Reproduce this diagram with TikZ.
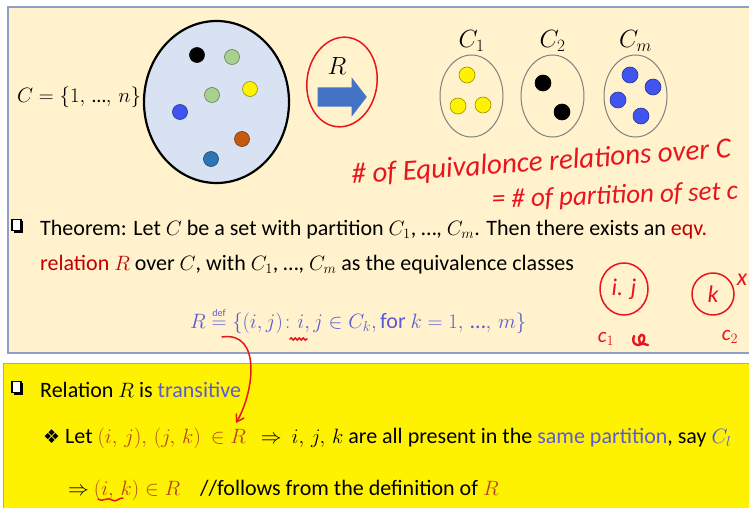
\documentclass[tikz,border=0pt]{standalone}
\usepackage{amsmath}
\usepackage{fontspec}
\setmainfont{Carlito}
\newfontfamily\symfont{DejaVu Sans}
\usetikzlibrary{
  arrows.meta,      % for arrow tips
  positioning,      % for relative placement
  shapes.geometric, % for ellipse
  shapes.arrows,    % for single arrow
  shadows,          % for the shadowed bullet boxes
  decorations.pathmorphing}
\definecolor{panel}{HTML}{FFF2CC}
\definecolor{panelline}{HTML}{8EA0C6}
\definecolor{setfill}{HTML}{D9E2F3}
\definecolor{arrowblue}{HTML}{4472C4}
\definecolor{defblue}{HTML}{5B5BD6}
\definecolor{darkred}{HTML}{C00000}
\definecolor{brownred}{HTML}{B5451B}
\definecolor{penred}{HTML}{E8141E}
\definecolor{lightgreen}{HTML}{A9D18E}
\definecolor{dotblue}{HTML}{4055F0}
\definecolor{dotbrown}{HTML}{C55A11}
\definecolor{steelblue}{HTML}{2E75B6}
\definecolor{dotyellow}{HTML}{FFF200}
\newcommand\dd{\text{…}}
\tikzset{
  set dot/.style={
    circle, inner sep=0pt, minimum size=15pt, fill=#1, draw=#1!60!black,
    line width=.6pt},
  class dot/.style={set dot=#1, minimum size=16pt},
  class set/.style={
    ellipse, draw=gray, line width=1pt, minimum width=63pt, minimum height=82pt},
  body/.style={anchor=base west, inner sep=0pt, font=\fontsize{22}{26}\selectfont},
  box bullet/.style={
    rectangle, draw, line width=1.2pt, fill=white, inner sep=0pt,
    minimum width=9pt, minimum height=11.5pt,
    drop shadow={opacity=1, fill=black, shadow xshift=1.8pt, shadow yshift=-2pt}},
  star bullet/.style={
    anchor=base west, inner sep=0pt, font=\fontsize{19}{22}\selectfont\symfont},
  pen/.style={draw=penred, line width=1.5pt, line cap=round, line join=round},
  hand/.style={inner sep=0pt, text=penred, font=\fontsize{24}{28}\selectfont\itshape}
}

\begin{document}
\begin{tikzpicture}[x=1pt, y=-1pt]
\useasboundingbox (0,0) rectangle (749,508);
\clip (0,0) rectangle (749,508);

% the two panels
\fill[panel] (8,7) rectangle (760,353);
\draw[panelline, line width=1.5pt] (760,7) -- (8,7) -- (8,353) -- (760,353);
\fill[yellow] (3,363) rectangle (760,515);
\draw[gray!70, line width=1pt] (760,363) -- (3,363) -- (3,515);

% the set C and its elements
\node[anchor=west, inner sep=0pt, font=\fontsize{20}{24}\selectfont]
  (set-name) at (17,97) {$C=\{1,\,\dd,\,n\}$};
\node[ellipse, draw, line width=2.2pt, fill=setfill,
  minimum width=145pt, minimum height=162pt] (set-C) at (216.5,102) {};
\node[set dot=black]      (e-1) at (197,55)  {};
\node[set dot=lightgreen] (e-2) at (232,57)  {};
\node[set dot=lightgreen] (e-3) at (212,95)  {};
\node[set dot=dotyellow]  (e-4) at (250,89)  {};
\node[set dot=dotblue]    (e-5) at (180,112) {};
\node[set dot=dotbrown]   (e-6) at (242,139) {};
\node[set dot=steelblue]  (e-7) at (211,159) {};

% the relation arrow
\node[single arrow, fill=arrowblue, inner xsep=0pt, inner ysep=9.5pt,
  minimum width=39pt, minimum height=49pt, single arrow head extend=10pt,
  single arrow tip angle=105] (rel-arrow) at (338.5,97) {};
\node[font=\fontsize{24}{28}\selectfont, inner sep=0pt] (rel-R) at (337,66) {$R$};
\node[ellipse, pen, rotate=-8, minimum width=70pt, minimum height=90pt]
  (ring-R) at (342,82) {};

% the classes
\node[class set] (set-1) at (471.5,96) {};
\node[class set, right=17pt of set-1] (set-2) {};
\node[class set, right=19pt of set-2] (set-m) {};
\foreach \s/\t in {1/1, 2/2, m/m}
  \node[above=3pt of set-\s, inner sep=0pt, font=\fontsize{24}{28}\selectfont]
    (label-\s) {$C_\t$};
\node[class dot=dotyellow] (c1-a) at (467,75)  {};
\node[class dot=dotyellow] (c1-b) at (458,106) {};
\node[class dot=dotyellow] (c1-c) at (483,105) {};
\node[class dot=black]     (c2-a) at (543,83)  {};
\node[class dot=black]     (c2-b) at (562,112) {};
\node[class dot=dotblue]   (cm-a) at (630,75)  {};
\node[class dot=dotblue]   (cm-b) at (653,87)  {};
\node[class dot=dotblue]   (cm-c) at (618,100) {};
\node[class dot=dotblue]   (cm-d) at (641,116) {};

% handwritten remark
\node[hand, anchor=base west, rotate=4, font=\fontsize{29}{32}\selectfont\itshape]
  (count-1) at (352,184) {\# of Equivalonce relations over C};
\node[hand, anchor=base west, rotate=2, font=\fontsize{27}{30}\selectfont\itshape]
  (count-2) at (492,208) {= \# of partition of set c};

% theorem
\node[box bullet] (thm-box) at (16.5,225) {};
\node[body] (thm-1) at (40,235)
  {Theorem: Let $C$ be a set with partition $C_1$, …, $C_m$. Then there
   exists an \textcolor{darkred}{eqv.}};
\node[body] (thm-2) at (40,270)
  {\textcolor{darkred}{relation $R$} over $C$, with $C_1$, …, $C_m$ as the
   equivalence classes};
\node[body, text=defblue] (def-R) at (190,328)
  {$R\overset{\text{\fontsize{10}{10}\selectfont def}}{=}\{(i,j)\colon i,j\in C_k,
   \text{for } k=1,\,\dd,\,m\}$};

% handwritten side notes
\node[ellipse, pen, minimum width=48pt, minimum height=52pt] (ring-ij) at (624,289) {};
\node[hand] (note-ij) at (ring-ij) {i. j};
\node[circle, pen, minimum size=42pt] (ring-k) at (713,294) {};
\node[hand] (note-k) at (ring-k) {k};
\node[hand, font=\fontsize{21}{24}\selectfont\itshape] (note-c1) at (606,339) {c$_1$};
\node[hand, font=\fontsize{21}{24}\selectfont\itshape] (note-c2) at (730,337) {c$_2$};
\node[hand] (note-x) at (742,280) {x};
\draw[pen, line width=2.4pt] (634,336) .. controls (630,346) and (642,348) .. (644,340)
  .. controls (646,332) and (636,333) .. (640,343) -- (648,345);
\draw[pen, decorate, decoration={snake, amplitude=1.2pt, segment length=4pt}]
  (290,339) -- (307,339);

% transitivity
\node[box bullet] (trans-box) at (16.5,387) {};
\node[body] (trans) at (40,397) {Relation $R$ is \textcolor{defblue}{transitive}};
\node[star bullet] (let-box) at (43,443) {❖};
\node[body] (let-line) at (65,443)
  {Let \textcolor{brownred}{$(i,\,j),\,(j,\,k)$\ \ $\in R$}\ \ \ $\Rightarrow$\ \ $i,\,j,\,k$
   are all present in the \textcolor{defblue}{same partition}, say
   \textcolor{dotblue}{$C_l$}};
\node[body] (imp-line) at (68,495)
  {$\Rightarrow$\ \textcolor{brownred}{$(i,\,k)\in R$}\ \ \ \ //follows from the
   definition of \textcolor{brownred}{$R$}};
\draw[pen] (98,499) .. controls (102,503) and (108,496) .. (112,500)
  .. controls (116,503) and (120,497) .. (123,498);

% from the definition to the membership
\coordinate (def-mark) at (222,337);
\coordinate (mem-mark) at (236,423);
\draw[pen, -{Straight Barb[length=7pt, width=9pt]}]
  (def-mark) .. controls (262,331) and (254,392) .. (mem-mark);
\end{tikzpicture}
\end{document}
